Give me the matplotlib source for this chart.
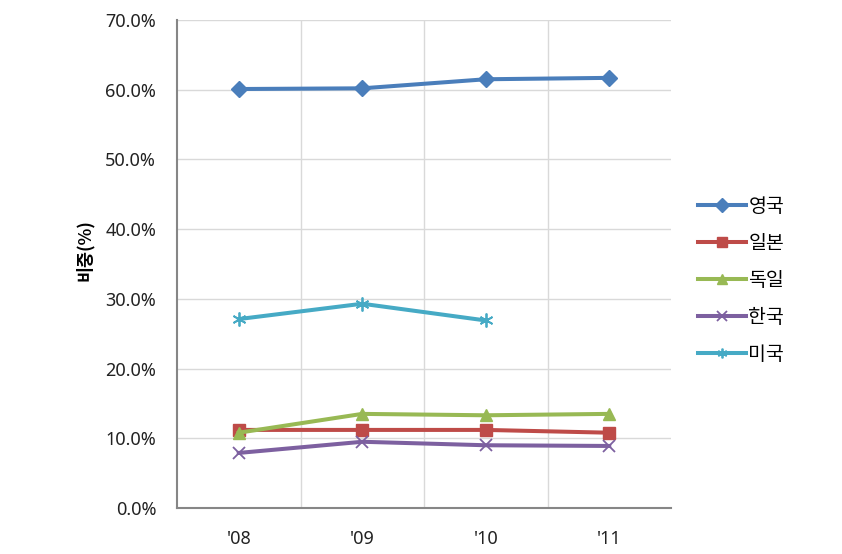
import matplotlib
matplotlib.use("Agg")
import matplotlib.pyplot as plt
import numpy as np

plt.rcParams['font.family'] = ['Noto Sans CJK KR', 'DejaVu Sans']

categories = ["'08", "'09", "'10", "'11"]
uk = [60.1, 60.2, 61.5, 61.7]
japan = [11.2, 11.2, 11.2, 10.8]
germany = [10.8, 13.5, 13.3, 13.5]
korea = [7.9, 9.5, 9.0, 8.9]
usa = [27.1, 29.3, 26.9]

series_names = ['영국', '일본', '독일', '한국', '미국']
yticks = [0, 10, 20, 30, 40, 50, 60, 70]
ytick_labels = ['0.0%', '10.0%', '20.0%', '30.0%', '40.0%', '50.0%', '60.0%', '70.0%']

fig = plt.figure(figsize=(8.42, 5.54), dpi=100)
ax = fig.add_axes([177/842, 46/554, 494/842, 488/554])

x = np.arange(len(categories))
lw = 2.9
ax.plot(x, uk, color='#4a7ebb', lw=lw, marker='D', ms=8, label=series_names[0], zorder=5)
ax.plot(x, japan, color='#be4b48', lw=lw, marker='s', ms=8, label=series_names[1], zorder=4)
ax.plot(x, germany, color='#98b954', lw=lw, marker='^', ms=9, label=series_names[2], zorder=5)
ax.plot(x, korea, color='#7d60a0', lw=lw, marker='x', ms=9, mew=1.3, label=series_names[3], zorder=4)
ax.plot(x[:len(usa)], usa, color='#46aac5', lw=lw, marker=(6, 2, 0), ms=10, mew=1.3, label=series_names[4], zorder=4)

ax.set_xlim(-0.5, len(categories) - 0.5)
ax.set_ylim(0, 70)
ax.set_yticks(yticks)
ax.set_yticklabels(ytick_labels)
ax.set_xticks(x)
ax.set_xticklabels(categories)
ax.set_xticks(np.arange(0.5, len(categories) - 0.5, 1), minor=True)

ax.grid(True, axis='y', color='#d9d9d9', lw=1)
ax.grid(True, axis='x', which='minor', color='#d9d9d9', lw=1)
ax.set_axisbelow(True)

for s in ['top', 'right']:
    ax.spines[s].set_visible(False)
for s in ['left', 'bottom']:
    ax.spines[s].set_color('#868686')
    ax.spines[s].set_linewidth(1.5)

ax.tick_params(axis='both', which='both', length=0, colors='#222222')
ax.tick_params(axis='y', pad=15)
ax.tick_params(axis='x', pad=16)
for lab in ax.get_xticklabels() + ax.get_yticklabels():
    lab.set_family(['Noto Sans', 'DejaVu Sans'])
    lab.set_fontsize(13)

ax.set_ylabel('비중(%)', fontsize=12.5, fontweight='bold')
ax.yaxis.set_label_coords(-0.168, (508 - 250) / 488)

leg = fig.legend(loc='upper left', bbox_to_anchor=(690/842, 1 - 188/554), frameon=False,
                 fontsize=14, handlelength=2.5, handletextpad=0.1, labelspacing=0.82,
                 borderaxespad=0)
for h in leg.legend_handles:
    h.set_markersize(7)

fig.savefig('out.png', dpi=100)
